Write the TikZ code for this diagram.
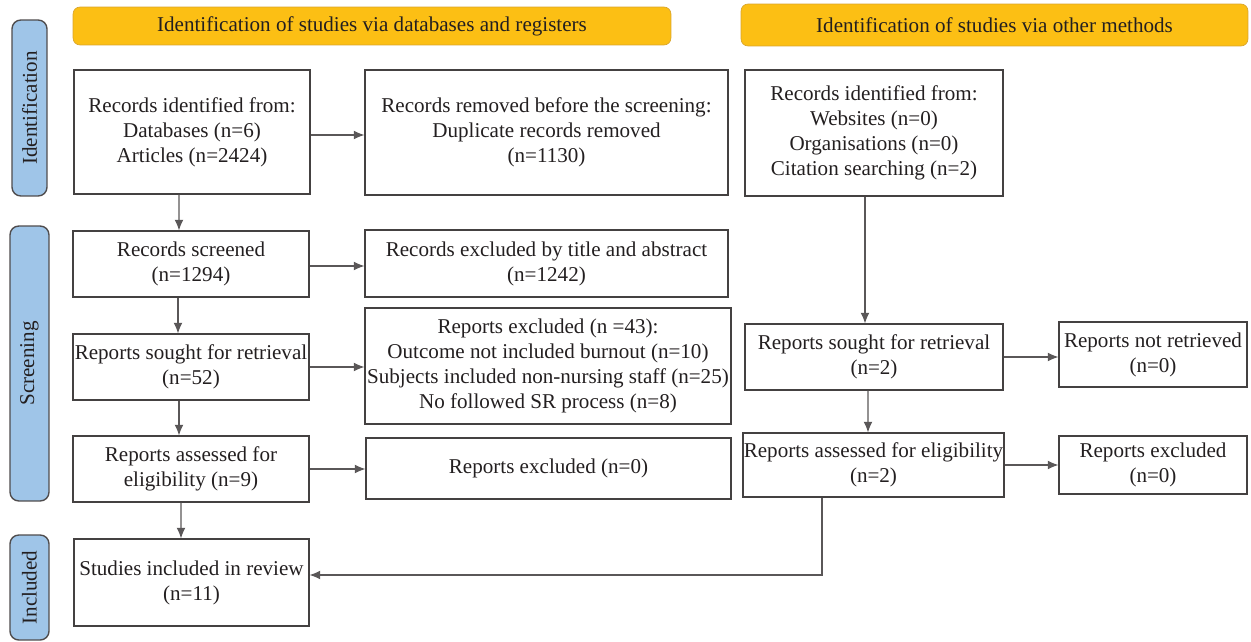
\documentclass[tikz,border=0pt]{standalone}
\usepackage{fontspec}
\setmainfont{Liberation Serif}
\usepackage{tikz}
\usetikzlibrary{positioning,arrows.meta,calc}
\definecolor{headyellow}{HTML}{FCBF14}
\definecolor{headedge}{HTML}{D9A52B}
\definecolor{stageblue}{HTML}{9FC5E8}
\definecolor{inkgray}{HTML}{231F20}

\begin{document}
\begin{tikzpicture}[x=0.02cm,y=-0.02cm,
    box/.style={draw=inkgray!85, line width=0.7pt, align=center, inner sep=0pt,
        font=\fontsize{12}{14.2}\selectfont, text=inkgray},
    header/.style={draw=headedge, fill=headyellow, rounded corners=4pt, inner sep=0pt,
        font=\fontsize{12}{14}\selectfont, text=inkgray},
    stage/.style={draw=inkgray!80, fill=stageblue, rounded corners=5pt, line width=0.8pt,
        inner sep=0pt, rotate=90, font=\fontsize{12}{14}\selectfont, text=inkgray},
    arrow/.style={-{Latex[length=6pt,width=5pt]}, draw=inkgray!75, line width=0.6pt}]
\useasboundingbox (0,0) rectangle (1251,642);

% Headers
\node[header, minimum width=11.96cm, minimum height=0.76cm] (hdb) at (372,26)
    {Identification of studies via databases and registers};
\node[header, minimum width=10.14cm, minimum height=0.84cm] (hother) at (994.5,25)
    {Identification of studies via other methods};

% Stages
\node[stage, minimum width=3.52cm, minimum height=0.7cm] (sid) at (29.5,108) {Identification};
\node[stage, minimum width=5.5cm, minimum height=0.78cm] (sscr) at (29.5,363.5) {Screening};
\node[stage, minimum width=2.1cm, minimum height=0.78cm] (sinc) at (29.5,587.5) {Included};

% Databases and registers
\node[box, minimum width=4.72cm, minimum height=2.48cm] (ident) at (192,132)
    {Records identified from:\\Databases (n=6)\\Articles (n=2424)};
\node[box, minimum width=7.26cm, minimum height=2.5cm] (removed) at (546.5,132.5)
    {Records removed before the screening:\\Duplicate records removed\\(n=1130)};
\node[box, minimum width=4.72cm, minimum height=1.32cm] (screened) at (191,264)
    {Records screened\\(n=1294)};
\node[box, minimum width=7.26cm, minimum height=1.34cm] (exctitle) at (546.5,263.5)
    {Records excluded by title and abstract\\(n=1242)};
\node[box, minimum width=4.72cm, minimum height=1.32cm] (sought) at (191,367)
    {Reports sought for retrieval\\(n=52)};
\node[box, minimum width=7.32cm, minimum height=2.32cm] (excrep) at (548,366)
    {Reports excluded (n =43):\\Outcome not included burnout (n=10)\\Subjects included non-nursing staff (n=25)\\No followed SR process (n=8)};
\node[box, minimum width=4.72cm, minimum height=1.32cm] (assessed) at (191,469)
    {Reports assessed for\\eligibility (n=9)};
\node[box, minimum width=7.3cm, minimum height=1.22cm] (exczero) at (548.5,468.5)
    {Reports excluded (n=0)};
\node[box, minimum width=4.7cm, minimum height=1.74cm] (included) at (191.5,582.5)
    {Studies included in review\\(n=11)};

% Other methods
\node[box, minimum width=5.16cm, minimum height=2.52cm] (oident) at (874,133)
    {Records identified from:\\Websites (n=0)\\Organisations (n=0)\\Citation searching (n=2)};
\node[box, minimum width=5.16cm, minimum height=1.32cm] (osought) at (874,357)
    {Reports sought for retrieval\\(n=2)};
\node[box, minimum width=3.76cm, minimum height=1.3cm] (onotret) at (1153,354.5)
    {Reports not retrieved\\(n=0)};
\node[box, minimum width=5.22cm, minimum height=1.28cm] (oassessed) at (873.5,465)
    {Reports assessed for eligibility\\(n=2)};
\node[box, minimum width=3.76cm, minimum height=1.16cm] (oexcl) at (1153,465)
    {Reports excluded\\(n=0)};

% Arrows
\draw[arrow] ([yshift=-0.06cm]ident.east) -- ([yshift=-0.06cm]ident.east -| removed.west);
\draw[arrow] ([xshift=-0.26cm]ident.south) -- ([xshift=-0.24cm]screened.north);
\draw[arrow] ([yshift=-0.04cm]screened.east) -- ([yshift=-0.04cm]screened.east -| exctitle.west);
\draw[arrow] ([xshift=-0.26cm]screened.south) -- ([xshift=-0.26cm]sought.north);
\draw[arrow] (sought.east) -- (sought.east -| excrep.west);
\draw[arrow] ([xshift=-0.24cm]sought.south) -- ([xshift=-0.24cm]assessed.north);
\draw[arrow] (assessed.east) -- (assessed.east -| exczero.west);
\draw[arrow] ([xshift=-0.2cm]assessed.south) -- ([xshift=-0.21cm]included.north);
\draw[arrow] ([xshift=-0.18cm]oident.south) -- ([xshift=-0.18cm]osought.north);
\draw[arrow] (osought.east) -- (osought.east -| onotret.west);
\draw[arrow] ([xshift=-0.12cm]osought.south) -- ([xshift=-0.11cm]oassessed.north);
\draw[arrow] (oassessed.east) -- (oassessed.east -| oexcl.west);
\draw[arrow] ([xshift=-1.03cm]oassessed.south) |- ([yshift=0.15cm]included.east);
\end{tikzpicture}
\end{document}
